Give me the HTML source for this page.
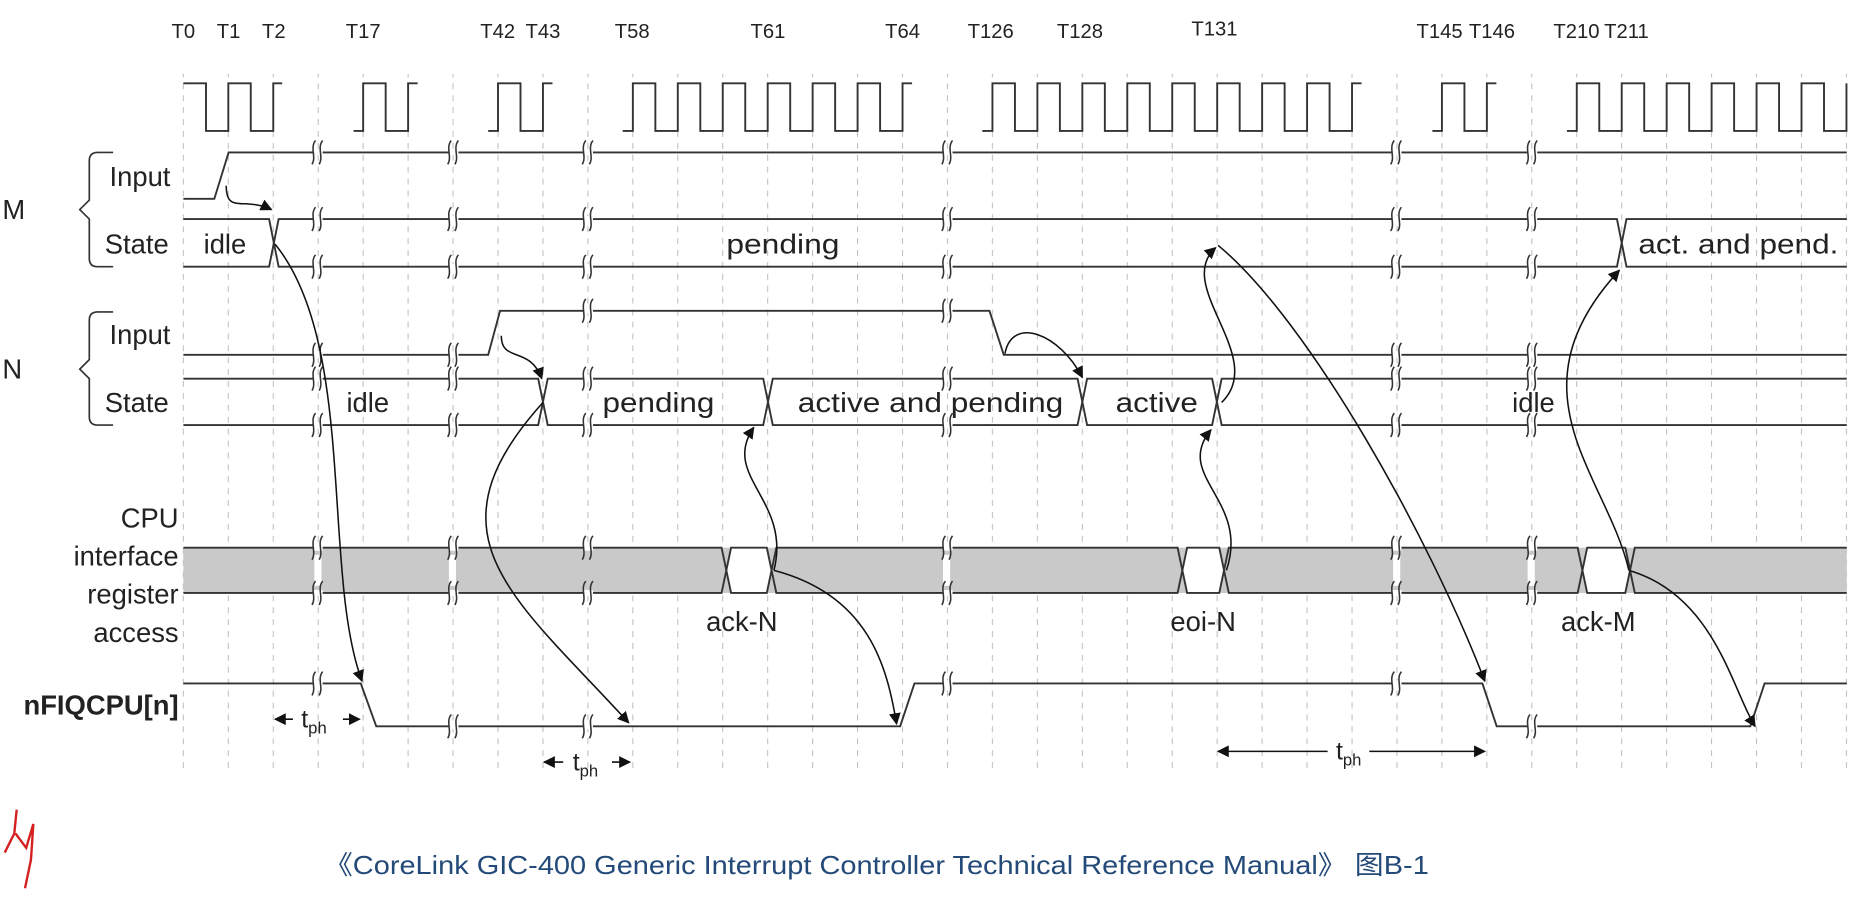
<!DOCTYPE html>
<html><head><meta charset="utf-8"><style>
html,body{margin:0;padding:0;background:#fff;width:1867px;height:909px;overflow:hidden}
svg{display:block}
text{font-family:"Liberation Sans",Arial,sans-serif;fill:#222}
</style></head><body>
<svg width="1867" height="909" viewBox="0 0 1568 763.4" preserveAspectRatio="none" xmlns="http://www.w3.org/2000/svg">
<defs>
<pattern id="g" x="153.5" y="0" width="37.75" height="10" patternUnits="userSpaceOnUse">
<line x1="0.5" y1="0" x2="0.5" y2="5" stroke="#b8b8b8" stroke-width="0.8"/>
</pattern>
<g id="brk"><rect x="-4" y="-2.5" width="8" height="5" fill="#fff"/><path d="M-5,10 C-1,4 -7,-4 -2,-10 M1,10 C5,4 -1,-4 4,-10" fill="none" stroke="#333" stroke-width="1.3"/></g>
<marker id="ah" markerWidth="10" markerHeight="10" refX="9" refY="5" orient="auto" markerUnits="userSpaceOnUse"><path d="M0,0 L10,5 L0,10 Z" fill="#111"/></marker>
</defs>
<rect x="150" y="62" width="1405" height="588" fill="url(#g)"/>

<!-- T labels -->
<g font-size="17" text-anchor="middle">
<text x="154" y="32">T0</text><text x="192" y="32">T1</text><text x="230" y="32">T2</text>
<text x="305" y="32">T17</text><text x="418" y="32">T42</text><text x="456" y="32">T43</text>
<text x="531" y="32">T58</text><text x="645" y="32">T61</text><text x="758" y="32">T64</text>
<text x="832" y="32">T126</text><text x="907" y="32">T128</text><text x="1020" y="30">T131</text>
<text x="1209" y="32">T145</text><text x="1253" y="32">T146</text><text x="1324" y="32">T210</text><text x="1366" y="32">T211</text>
</g>

<!-- clock -->
<g fill="none" stroke="#333" stroke-width="1.6">
<path d="M154,70 H173 V110 H191.75 V70 H210.6 V110 H229.5 V70 H237"/>
<path d="M297,110 H305 V70 h18.9 V110 h18.85 V70 h8"/>
<path d="M410,110 H418.25 V70 h18.9 V110 h18.85 V70 h8"/>
<path d="M523,110 H531.5 V70 h18.9 V110 h18.85 V70 h18.9 V110 h18.85 V70 h18.9 V110 h18.85 V70 h18.9 V110 h18.85 V70 h18.9 V110 h18.85 V70 h18.9 V110 h18.85 V70 h8"/>
<path d="M825,110 H833.5 V70 h18.9 V110 h18.85 V70 h18.9 V110 h18.85 V70 h18.9 V110 h18.85 V70 h18.9 V110 h18.85 V70 h18.9 V110 h18.85 V70 h18.9 V110 h18.85 V70 h18.9 V110 h18.85 V70 h18.9 V110 h18.85 V70 h8"/>
<path d="M1203,110 H1211 V70 h18.9 V110 h18.85 V70 h8"/>
<path d="M1316,110 H1324.25 V70 h18.9 V110 h18.85 V70 h18.9 V110 h18.85 V70 h18.9 V110 h18.85 V70 h18.9 V110 h18.85 V70 h18.9 V110 h18.85 V70 h18.9 V110 h18.85 V70"/>
</g>

<!-- bus fill -->
<rect x="154" y="460" width="1397" height="38" fill="#c9c9c9"/>
<polygon points="610,479 614,460 644,460 648,479 644,498 614,498" fill="#fff"/>
<polygon points="993,479 997,460 1024,460 1028,479 1024,498 997,498" fill="#fff"/>
<polygon points="1329,479 1333,460 1365,460 1369,479 1365,498 1333,498" fill="#fff"/>
<g fill="#fff">
<rect x="264" y="466" width="6" height="26"/><rect x="377" y="466" width="6" height="26"/>
<rect x="792" y="466" width="6" height="26"/><rect x="1170" y="466" width="6" height="26"/><rect x="1283" y="466" width="6" height="26"/>
</g>

<!-- signals -->
<g fill="none" stroke="#333" stroke-width="1.6">
<path d="M154,167 H180 L192,128 H1551"/>
<path d="M154,184 H226 L234,224 H1358 L1366,184 H1551"/>
<path d="M154,224 H226 L234,184 H1358 L1366,224 H1551"/>
<path d="M154,298 H410 L420,261 H831 L843,298 H1551"/>
<path d="M154,318 H452 L460,357 H641 L649,318 H905 L913,357 H1018 L1026,318 H1551"/>
<path d="M154,357 H452 L460,318 H641 L649,357 H905 L913,318 H1018 L1026,357 H1551"/>
<path d="M154,460 H606 L614,498 H644 L652,460 H989 L997,498 H1024 L1032,460 H1325 L1333,498 H1365 L1373,460 H1551"/>
<path d="M154,498 H606 L614,460 H644 L652,498 H989 L997,460 H1024 L1032,498 H1325 L1333,460 H1365 L1373,498 H1551"/>
<path d="M154,574 H303 L316,610 H756 L768,574 H1245 L1257,610 H1470 L1482,574 H1551"/>
<path d="M95,128 H82 Q75,128 75,135 V168 L67,176 L75,184 V217 Q75,224 82,224 H95" stroke-width="1.4"/>
<path d="M95,262 H82 Q75,262 75,269 V302 L67,310 L75,318 V350 Q75,357 82,357 H95" stroke-width="1.4"/>
</g>

<!-- breaks -->
<g>
<use href="#brk" x="267" y="128"/><use href="#brk" x="381" y="128"/><use href="#brk" x="494" y="128"/><use href="#brk" x="796" y="128"/><use href="#brk" x="1173" y="128"/><use href="#brk" x="1287" y="128"/>
<use href="#brk" x="267" y="184"/><use href="#brk" x="381" y="184"/><use href="#brk" x="494" y="184"/><use href="#brk" x="796" y="184"/><use href="#brk" x="1173" y="184"/><use href="#brk" x="1287" y="184"/>
<use href="#brk" x="267" y="224"/><use href="#brk" x="381" y="224"/><use href="#brk" x="494" y="224"/><use href="#brk" x="796" y="224"/><use href="#brk" x="1173" y="224"/><use href="#brk" x="1287" y="224"/>
<use href="#brk" x="267" y="298"/><use href="#brk" x="381" y="298"/><use href="#brk" x="494" y="261"/><use href="#brk" x="796" y="261"/><use href="#brk" x="1173" y="298"/><use href="#brk" x="1287" y="298"/>
<use href="#brk" x="267" y="318"/><use href="#brk" x="381" y="318"/><use href="#brk" x="494" y="318"/><use href="#brk" x="796" y="318"/><use href="#brk" x="1173" y="318"/><use href="#brk" x="1287" y="318"/>
<use href="#brk" x="267" y="357"/><use href="#brk" x="381" y="357"/><use href="#brk" x="494" y="357"/><use href="#brk" x="796" y="357"/><use href="#brk" x="1173" y="357"/><use href="#brk" x="1287" y="357"/>
<use href="#brk" x="267" y="460"/><use href="#brk" x="381" y="460"/><use href="#brk" x="494" y="460"/><use href="#brk" x="796" y="460"/><use href="#brk" x="1173" y="460"/><use href="#brk" x="1287" y="460"/>
<use href="#brk" x="267" y="498"/><use href="#brk" x="381" y="498"/><use href="#brk" x="494" y="498"/><use href="#brk" x="796" y="498"/><use href="#brk" x="1173" y="498"/><use href="#brk" x="1287" y="498"/>
<use href="#brk" x="267" y="574"/><use href="#brk" x="381" y="610"/><use href="#brk" x="494" y="610"/><use href="#brk" x="796" y="574"/><use href="#brk" x="1173" y="574"/><use href="#brk" x="1287" y="610"/>
</g>

<!-- arrows -->
<g fill="none" stroke="#111" stroke-width="1.3" marker-end="url(#ah)">
<path d="M190,156 C190,180 205,165 228,176"/>
<path d="M231,205 C300,290 270,480 304,572"/>
<path d="M421,282 C421,305 445,290 455,318"/>
<path d="M456,338 C355,450 430,500 528,607"/>
<path d="M650,479 C665,420 605,400 633,359"/>
<path d="M650,479 C730,500 745,560 753,608"/>
<path d="M844,297 C850,265 890,280 909,317"/>
<path d="M1030,479 C1050,420 985,400 1017,361"/>
<path d="M1026,338 C1065,300 985,240 1021,208"/>
<path d="M1023,206 C1100,270 1200,450 1247,572"/>
<path d="M1368,479 C1350,400 1265,330 1360,227"/>
<path d="M1368,479 C1440,500 1455,580 1474,610"/>
<path d="M246,604 H231"/><path d="M288,604 H302"/>
<path d="M473,640 H457"/><path d="M514,640 H529"/>
<path d="M1115,631 H1023"/><path d="M1150,631 H1247"/>
</g>
<g font-size="21">
<text x="253" y="611">t<tspan font-size="14" dy="5">ph</tspan></text>
<text x="481" y="647">t<tspan font-size="14" dy="5">ph</tspan></text>
<text x="1122" y="638">t<tspan font-size="14" dy="5">ph</tspan></text>
</g>

<!-- labels -->
<g font-size="23">
<text x="2" y="184">M</text><text x="2" y="318">N</text>
<text x="92" y="156">Input</text><text x="88" y="213">State</text>
<text x="92" y="289">Input</text><text x="88" y="346">State</text>
<text x="171" y="213">idle</text><text x="610" y="213" textLength="95" lengthAdjust="spacingAndGlyphs">pending</text><text x="1376" y="213" textLength="168" lengthAdjust="spacingAndGlyphs">act. and pend.</text>
<text x="291" y="346">idle</text><text x="506" y="346" textLength="94" lengthAdjust="spacingAndGlyphs">pending</text><text x="670" y="346" textLength="223" lengthAdjust="spacingAndGlyphs">active and pending</text>
<text x="937" y="346" textLength="69" lengthAdjust="spacingAndGlyphs">active</text><text x="1270" y="346">idle</text>
<g text-anchor="end"><text x="150" y="443">CPU</text><text x="150" y="475">interface</text><text x="150" y="507">register</text><text x="150" y="539">access</text>
<text x="150" y="600" font-weight="bold">nFIQCPU[n]</text></g>
<text x="593" y="530">ack-N</text><text x="983" y="530">eoi-N</text><text x="1311" y="530">ack-M</text>
</g>
<path d="M14,680 L12,700 L4,716 M13,700 L22,712 L28,692 L26,722 L21,746" fill="none" stroke="#d42020" stroke-width="2"/>
<text x="272" y="734" font-size="22" textLength="928" lengthAdjust="spacingAndGlyphs" style="font-family:'Liberation Sans','Noto Sans CJK SC',sans-serif;fill:#234a78">《CoreLink GIC-400 Generic Interrupt Controller Technical Reference Manual》 图B-1</text>
</svg>
</body></html>
